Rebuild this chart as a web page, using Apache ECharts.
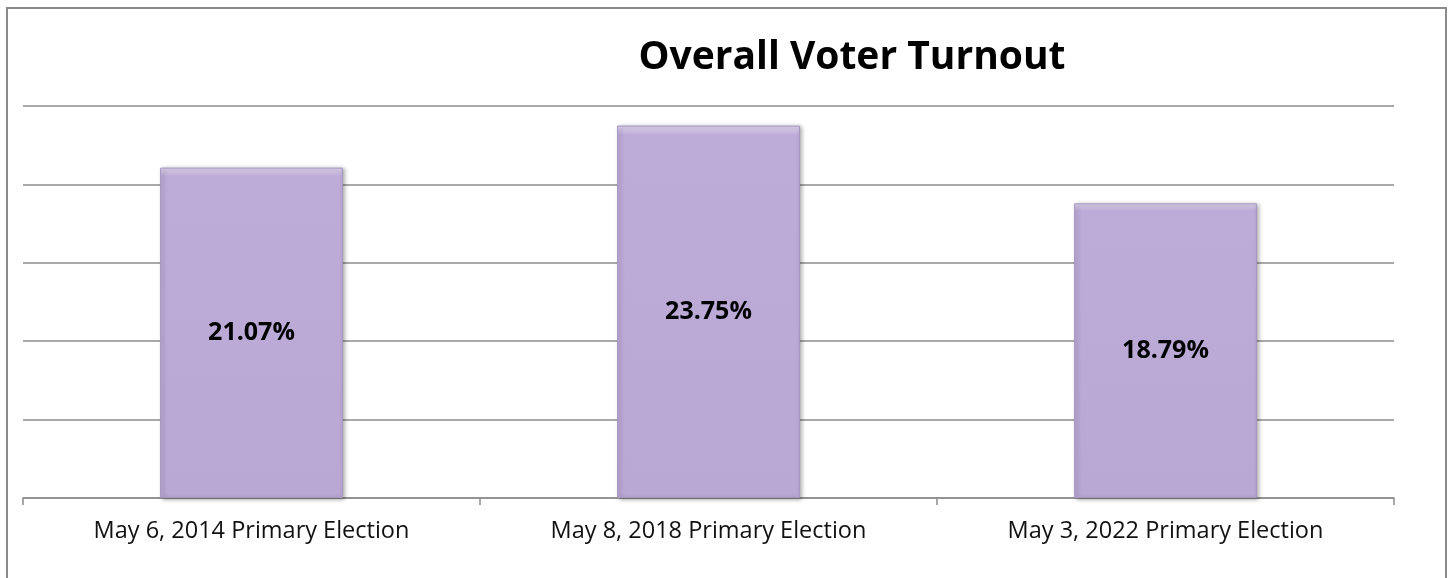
<!DOCTYPE html>
<html>
<head>
<meta charset="utf-8">
<script src="https://cdn.jsdelivr.net/npm/echarts@6/dist/echarts.min.js"></script>
<style>
html,body{margin:0;padding:0;background:#fff;}
#chart{width:1450px;height:578px;}
</style>
</head>
<body>
<div id="chart"></div>
<script>
const titleText = "Overall Voter Turnout";
const categories = ["May 6, 2014 Primary Election", "May 8, 2018 Primary Election", "May 3, 2022 Primary Election"];
const turnout = [21.07, 23.75, 18.79];
const yTicks = [0, 5, 10, 15, 20, 25];

const chart = echarts.init(document.getElementById('chart'));
chart.setOption({
  backgroundColor: '#ffffff',
  animation: false,
  title: {
    text: titleText,
    left: 847,
    top: 33,
    textAlign: 'center',
    textStyle: {fontFamily: 'Open Sans', fontWeight: 'bold', fontSize: 39, color: '#000'}
  },
  graphic: [{
    type: 'rect',
    shape: {x: 7, y: 8, width: 1439, height: 580},
    style: {fill: 'none', stroke: '#8a8a8a', lineWidth: 2},
    silent: true
  }],
  grid: {left: 23, right: 56, top: 106, bottom: 80, containLabel: false},
  xAxis: {
    type: 'category',
    data: categories,
    axisLine: {lineStyle: {color: '#8c8c8c', width: 1.5}},
    axisTick: {show: true, length: 7, lineStyle: {color: '#8c8c8c', width: 1.5}},
    axisLabel: {fontFamily: 'Open Sans', fontSize: 23.5, color: '#111', margin: 21}
  },
  yAxis: {
    type: 'value',
    min: yTicks[0],
    max: yTicks[yTicks.length - 1],
    interval: yTicks[1] - yTicks[0],
    axisLabel: {show: false},
    axisLine: {show: false},
    axisTick: {show: false},
    splitLine: {lineStyle: {color: '#8c8c8c', width: 1.5}}
  },
  series: [{
    type: 'bar',
    data: turnout,
    barWidth: '40%',
    itemStyle: {
      color: {
        type: 'linear', x: 0, y: 0, x2: 0, y2: 1,
        colorStops: [
          {offset: 0, color: '#e2d8f0'},
          {offset: 0.025, color: '#bdacd8'},
          {offset: 1, color: '#b9a8d4'}
        ]
      },
      borderColor: '#a596c2',
      borderWidth: 1,
      shadowColor: 'rgba(0,0,0,0.35)',
      shadowBlur: 4,
      shadowOffsetX: 2,
      shadowOffsetY: 1
    },
    label: {
      show: true,
      position: 'inside',
      formatter: p => p.value.toFixed(2) + '%',
      fontFamily: 'Open Sans',
      fontWeight: 'bold',
      fontSize: 25,
      color: '#000'
    }
  }]
});
</script>
</body>
</html>
